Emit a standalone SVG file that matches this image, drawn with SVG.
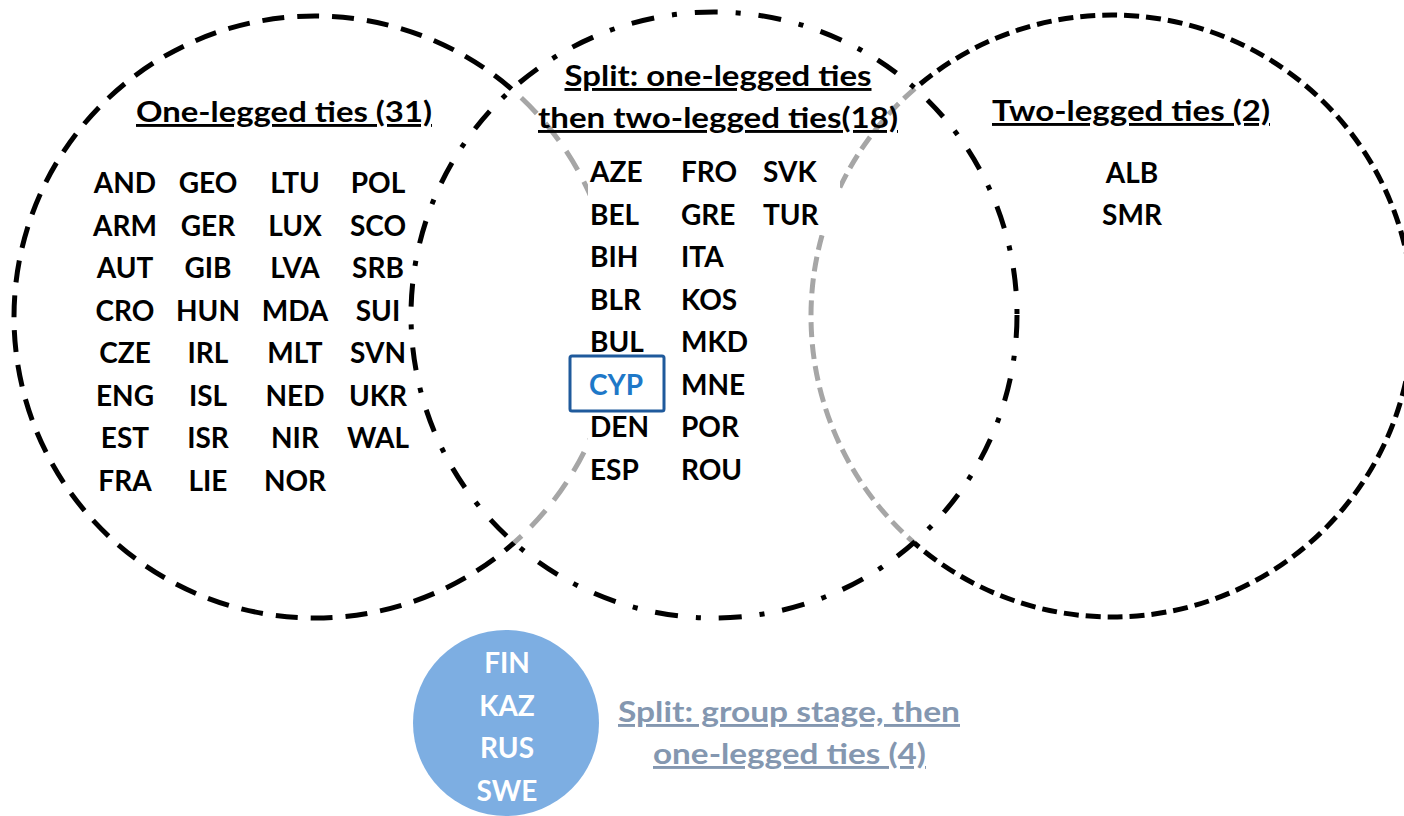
<svg xmlns="http://www.w3.org/2000/svg" width="1404" height="816" viewBox="0 0 1404 816">
<style>
.t{font-family:Lato,"Liberation Sans",sans-serif;font-weight:700;font-size:28px;fill:#000}
.h{font-family:Lato,"Liberation Sans",sans-serif;font-weight:700;font-size:29px;fill:#000;text-anchor:middle;text-decoration:underline;text-decoration-skip-ink:none}
.m{text-anchor:middle}
.ring{fill:none;stroke-width:5}
.dashL{stroke-dasharray:22 13}
.dashR{stroke-dasharray:15 7}
.dashM{stroke-dasharray:23 18 5 18}
.blk{stroke:#000}
.gry{stroke:#A6A6A6}
</style>
<defs>
<clipPath id="insideMid"><circle cx="714" cy="315" r="303"/></clipPath>
<mask id="outsideMid" maskUnits="userSpaceOnUse" x="0" y="0" width="1404" height="816">
<rect x="0" y="0" width="1404" height="816" fill="#fff"/>
<circle cx="714" cy="315" r="303" fill="#000"/>
</mask>
</defs>
<rect x="0" y="0" width="1404" height="816" fill="#fff"/>

<g id="connectors"></g>

<g id="set-one-legged">
<circle class="ring dashL gry" cx="315" cy="317" r="301" clip-path="url(#insideMid)"/>
<circle class="ring dashL blk" cx="315" cy="317" r="301" mask="url(#outsideMid)"/>
<text class="h" x="284" y="122" textLength="296" lengthAdjust="spacingAndGlyphs">One-legged ties (31)</text>
<g class="t m">
<text x="125" y="193">AND</text><text x="208" y="193">GEO</text><text x="295" y="193">LTU</text><text x="378" y="193">POL</text>
<text x="125" y="235.5">ARM</text><text x="208" y="235.5">GER</text><text x="295" y="235.5">LUX</text><text x="378" y="235.5">SCO</text>
<text x="125" y="278">AUT</text><text x="208" y="278">GIB</text><text x="295" y="278">LVA</text><text x="378" y="278">SRB</text>
<text x="125" y="320.5">CRO</text><text x="208" y="320.5">HUN</text><text x="295" y="320.5">MDA</text><text x="378" y="320.5">SUI</text>
<text x="125" y="363">CZE</text><text x="208" y="363">IRL</text><text x="295" y="363">MLT</text><text x="378" y="363">SVN</text>
<text x="125" y="405.5">ENG</text><text x="208" y="405.5">ISL</text><text x="295" y="405.5">NED</text><text x="378" y="405.5">UKR</text>
<text x="125" y="448">EST</text><text x="208" y="448">ISR</text><text x="295" y="448">NIR</text><text x="378" y="448">WAL</text>
<text x="125" y="490.5">FRA</text><text x="208" y="490.5">LIE</text><text x="295" y="490.5">NOR</text>
</g>
</g>

<g id="set-two-legged">
<circle class="ring dashR gry" cx="1112" cy="316" r="301" clip-path="url(#insideMid)"/>
<circle class="ring dashR blk" cx="1112" cy="316" r="301" mask="url(#outsideMid)"/>
<text class="h" x="1131" y="121" textLength="278" lengthAdjust="spacingAndGlyphs">Two-legged ties (2)</text>
<text class="t m" x="1132" y="183">ALB</text>
<text class="t m" x="1132" y="225">SMR</text>
</g>

<g id="set-split-one-two">
<rect x="588" y="150" width="252" height="85" fill="#fff"/>
<rect x="588" y="235" width="172" height="255" fill="#fff"/>
<circle class="ring dashM blk" cx="714" cy="315" r="303"/>
<text class="h" x="718" y="86" textLength="307" lengthAdjust="spacingAndGlyphs">Split: one-legged ties</text>
<text class="h" x="718" y="128" textLength="360" lengthAdjust="spacingAndGlyphs">then two-legged ties(18)</text>
<g class="t">
<text x="590" y="182">AZE</text><text x="681" y="182">FRO</text><text x="763" y="182">SVK</text>
<text x="590" y="224.5">BEL</text><text x="681" y="224.5">GRE</text><text x="763" y="224.5">TUR</text>
<text x="590" y="267">BIH</text><text x="681" y="267">ITA</text>
<text x="590" y="309.5">BLR</text><text x="681" y="309.5">KOS</text>
<text x="590" y="352">BUL</text><text x="681" y="352">MKD</text>
<text x="681" y="394.5">MNE</text>
<text x="590" y="437">DEN</text><text x="681" y="437">POR</text>
<text x="590" y="479.5">ESP</text><text x="681" y="479.5">ROU</text>
</g>
<g id="cyp">
<rect x="570" y="356" width="94" height="55" rx="2" fill="none" stroke="#1F5A9C" stroke-width="3"/>
<text class="t m" x="616" y="394.5" style="fill:#1E78C8">CYP</text>
</g>
</g>

<g id="set-group-stage">
<circle cx="506" cy="723" r="93" fill="#7DAEE2"/>
<g class="t m" style="fill:#fff">
<text x="507" y="673">FIN</text>
<text x="507" y="716">KAZ</text>
<text x="507" y="758">RUS</text>
<text x="507" y="801">SWE</text>
</g>
<text class="h" x="789" y="722" textLength="342" lengthAdjust="spacingAndGlyphs" style="fill:#8497B0">Split: group stage, then</text>
<text class="h" x="789.5" y="764" textLength="273" lengthAdjust="spacingAndGlyphs" style="fill:#8497B0">one-legged ties (4)</text>
</g>
</svg>
